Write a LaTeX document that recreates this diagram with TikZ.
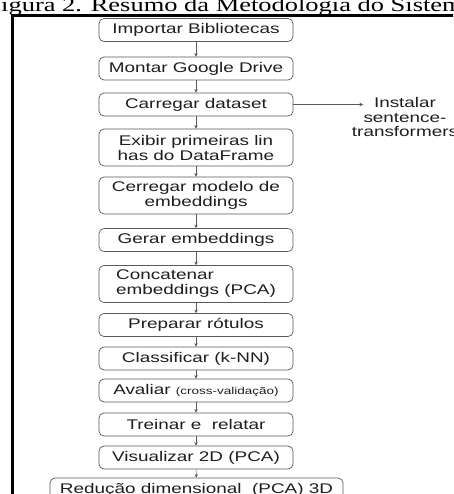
\documentclass[tikz,border=0pt]{standalone}
\usepackage{fontspec}
\setmainfont[FakeStretch=1.35]{Liberation Sans}
\newfontfamily\capfont[FakeStretch=1.35]{Liberation Serif}
\usetikzlibrary{arrows.meta}
\definecolor{boxgray}{RGB}{90,90,90}
\definecolor{txtdark}{RGB}{30,30,30}
\newcommand{\smallnote}[1]{{\fontsize{10}{11}\selectfont #1}}

\begin{document}
\begin{tikzpicture}[x=1pt,y=-1pt,
    stepbox/.style={draw=boxgray, line width=0.7pt, rounded corners=5pt,
      minimum width=194pt, minimum height=23pt, inner sep=2pt,
      text=txtdark, font=\fontsize{14}{15}\selectfont, align=center},
    tallbox/.style={stepbox, minimum height=37pt},
    flow/.style={draw=boxgray, line width=0.5pt, -{Stealth[length=3.5pt,width=3.5pt]}}]
  \useasboundingbox (0,0) rectangle (453,494);
  \clip (0,0) rectangle (453,494);
  \fill[white] (0,0) rectangle (453,494);

  \node[anchor=base west, inner sep=0pt, text=black,
        font=\capfont\fontsize{19.6}{20}\selectfont] (cap) at (1,12)
        {igura 2. Resumo da Metodologia do Sistem};
  \draw[line width=3pt] (12,510) -- (12,15.5) -- (470,15.5);

  \node[stepbox] (imp) at (196,30) {Importar Bibliotecas};
  \node[stepbox] (drv) at (196,68.5) {Montar Google Drive};
  \node[stepbox] (dat) at (196,104.5) {Carregar dataset};
  \node[tallbox] (exi) at (196,147.5) {Exibir primeiras lin\\has do DataFrame};
  \node[tallbox] (mod) at (196,195.5) {Cerregar modelo de\\embeddings};
  \node[stepbox] (emb) at (196,240) {Gerar embeddings};
  \node[tallbox, align=left] (cat) at (196,284) {Concatenar\\embeddings (PCA)};
  \node[stepbox] (rot) at (196,325) {Preparar rótulos};
  \node[stepbox] (knn) at (196,358.5) {Classificar (k-NN)};
  \node[stepbox] (ava) at (196,390.5) {Avaliar \smallnote{(cross-validação)}};
  \node[stepbox] (tre) at (196,424.5) {Treinar e\ \ relatar};
  \node[stepbox] (vis) at (196,457.5) {Visualizar 2D (PCA)};
  \node[stepbox, minimum width=293pt] (red) at (196.5,489.5) {Redução dimensional\ \ (PCA) 3D};

  \node[inner sep=0pt, align=center, text=txtdark,
        font=\fontsize{14}{14.5}\selectfont] (ins) at (405,117)
        {Instalar\\sentence-\\transformers};
  \coordinate (insarr) at (363,104.5);

  \foreach \a/\b in {imp/drv, drv/dat, dat/exi, exi/mod, mod/emb, emb/cat,
                     cat/rot, rot/knn, knn/ava, ava/tre, tre/vis, vis/red}
    \draw[flow] (\a) -- (\b);
  \draw[flow] (dat.east) -- (insarr);
\end{tikzpicture}
\end{document}
